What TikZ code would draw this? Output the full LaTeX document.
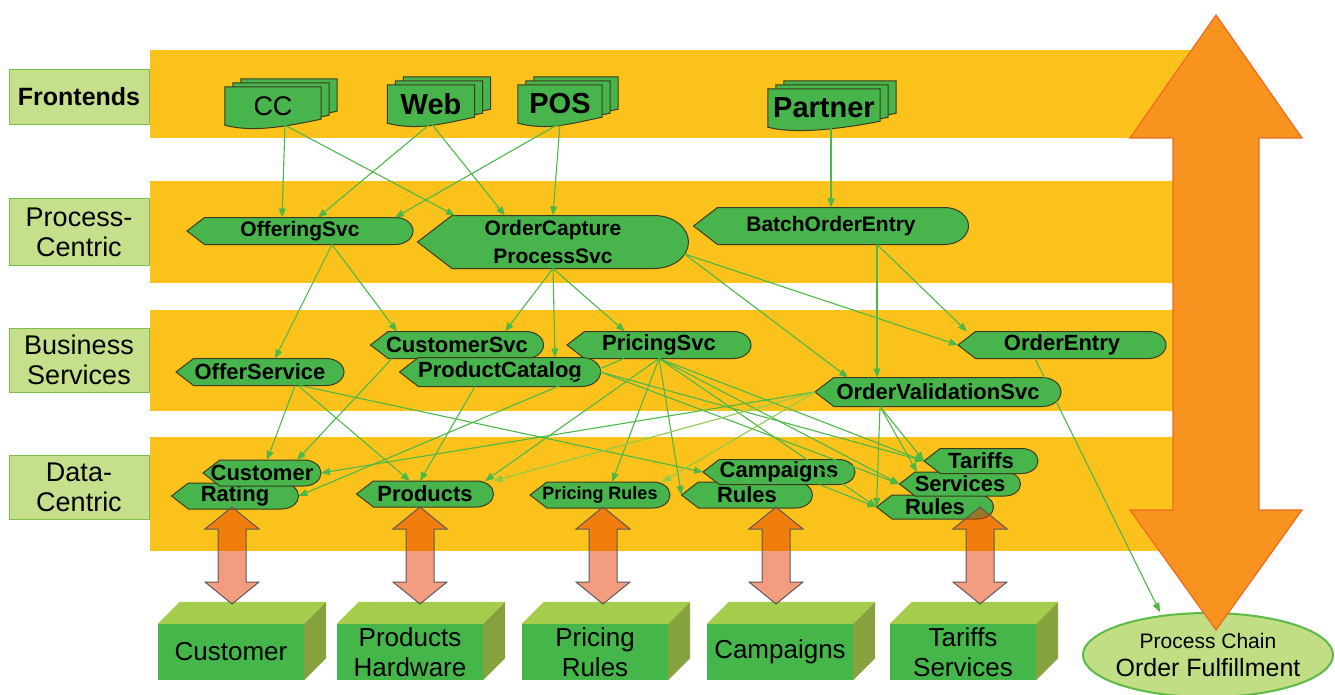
\documentclass[tikz,border=0pt]{standalone}
\usepackage{fontspec}
\setmainfont{Liberation Sans}
\usepackage{xcolor}
\usepackage{tikz}
\usetikzlibrary{arrows.meta, shapes.geometric, backgrounds}
\definecolor{bandcol}{HTML}{FBC21B}
\definecolor{lblfill}{HTML}{C6DF8B}
\definecolor{lblline}{HTML}{7DC14A}
\definecolor{svcfill}{HTML}{47B54B}
\definecolor{svcline}{HTML}{3D3B1F}
\definecolor{edgegreen}{HTML}{4CB848}
\definecolor{edgelight}{HTML}{8DCB4A}
\definecolor{boxfront}{HTML}{45B649}
\definecolor{boxtop}{HTML}{A3CD4B}
\definecolor{boxside}{HTML}{86A23E}
\definecolor{feedcol}{HTML}{E83A00}
\definecolor{feedline}{HTML}{5A5A5A}
\definecolor{bigfill}{HTML}{F7931E}
\definecolor{bigline}{HTML}{F26A21}
\definecolor{chainfill}{HTML}{C2DE84}
\definecolor{chainline}{HTML}{5CBA46}

% pointed left end, rounded right end
\makeatletter
\pgfdeclareshape{svcshape}{
  \inheritsavedanchors[from=rectangle]
  \inheritanchorborder[from=rectangle]
  \inheritanchor[from=rectangle]{center}
  \inheritanchor[from=rectangle]{north}
  \inheritanchor[from=rectangle]{south}
  \inheritanchor[from=rectangle]{east}
  \inheritanchor[from=rectangle]{west}
  \inheritanchor[from=rectangle]{north east}
  \inheritanchor[from=rectangle]{north west}
  \inheritanchor[from=rectangle]{south east}
  \inheritanchor[from=rectangle]{south west}
  \backgroundpath{%
    \southwest \edef\svc@l{\pgf@sys@tonumber\pgf@x}\edef\svc@b{\pgf@sys@tonumber\pgf@y}%
    \northeast \edef\svc@r{\pgf@sys@tonumber\pgf@x}\edef\svc@t{\pgf@sys@tonumber\pgf@y}%
    \pgfmathsetmacro\svc@h{(\svc@t-\svc@b)/2}%
    \pgfmathsetmacro\svc@m{(\svc@t+\svc@b)/2}%
    \pgfmathsetmacro\svc@p{\svc@l+1.3*\svc@h}%
    \pgfmathsetmacro\svc@c{\svc@r-1.3*\svc@h}%
    \pgfmathsetmacro\svc@k{\svc@c+0.72*\svc@h}%
    \pgfmathsetmacro\svc@u{\svc@m+0.55*\svc@h}%
    \pgfmathsetmacro\svc@d{\svc@m-0.55*\svc@h}%
    \pgfpathmoveto{\pgfqpoint{\svc@l pt}{\svc@m pt}}%
    \pgfpathlineto{\pgfqpoint{\svc@p pt}{\svc@t pt}}%
    \pgfpathlineto{\pgfqpoint{\svc@c pt}{\svc@t pt}}%
    \pgfpathcurveto{\pgfqpoint{\svc@k pt}{\svc@t pt}}{\pgfqpoint{\svc@r pt}{\svc@u pt}}{\pgfqpoint{\svc@r pt}{\svc@m pt}}%
    \pgfpathcurveto{\pgfqpoint{\svc@r pt}{\svc@d pt}}{\pgfqpoint{\svc@k pt}{\svc@b pt}}{\pgfqpoint{\svc@c pt}{\svc@b pt}}%
    \pgfpathlineto{\pgfqpoint{\svc@p pt}{\svc@b pt}}%
    \pgfpathclose
  }
}
\makeatother

\begin{document}
\begin{tikzpicture}[
  x=1pt, y=-1pt,
  band/.style={fill=bandcol},
  lbl/.style={draw=lblline, fill=lblfill, line width=1pt, minimum width=140, inner sep=0pt,
              align=center, font=\fontsize{27}{30}\selectfont},
  doc/.style={minimum height=38, inner sep=0pt, font=\fontsize{29}{30}\selectfont\bfseries},
  docshape/.style={draw=svcline, fill=svcfill, line width=1pt},
  svc/.style={shape=svcshape, draw=svcline, fill=svcfill, line width=1pt, inner sep=0pt,
              minimum height=26, font=\fontsize{22}{24}\selectfont\bfseries},
  flow/.style={draw=edgegreen, line width=1.1pt, -{Triangle[length=9pt,width=7pt]}},
  flowlight/.style={flow, draw=edgelight},
  store/.style={fill=boxfront, minimum width=146, minimum height=56, inner sep=0pt,
                align=center, font=\fontsize{26}{30}\selectfont},
  feedarr/.style={fill=feedcol, fill opacity=0.5, draw=feedline, line width=1pt},
  feed/.pic={\draw[feedarr] (0,0) -- (27,22) -- (14,22) -- (14,75) -- (27,75) -- (0,97)
             -- (-27,75) -- (-14,75) -- (-14,22) -- (-27,22) -- cycle;},
  bigarr/.style={fill=bigfill, draw=bigline, line width=1.2pt},
  chainnode/.style={ellipse, draw=chainline, fill=chainfill, line width=2pt, inner xsep=-8pt,
                    inner ysep=-4pt, minimum width=250, minimum height=84, align=center,
                    font=\fontsize{25}{28}\selectfont},
]
\useasboundingbox (0,0) rectangle (1335,695);

% layer labels
\node[lbl, minimum height=55, font=\fontsize{25}{30}\selectfont\bfseries] (frontlbl) at (79,97) {Frontends};
\node[lbl, minimum height=66] (proclbl) at (79,232) {Process-\\Centric};
\node[lbl, minimum height=64] (buslbl) at (79,360) {Business\\Services};
\node[lbl, minimum height=64] (datalbl) at (79,487) {Data-\\Centric};

% frontends
\node[doc, minimum width=96, font=\fontsize{27}{30}\selectfont] (cc) at (273,106) {CC};
\node[doc, minimum width=87] (web) at (431,104) {Web};
\node[doc, minimum width=84] (pos) at (560,104) {POS};
\node[doc, minimum width=112] (partner) at (824,108) {Partner};

% process-centric
\node[svc, minimum width=225, font=\fontsize{21}{24}\selectfont\bfseries] (offering) at (300,231) {OfferingSvc};
\node[svc, minimum width=270, minimum height=52, align=center, font=\fontsize{21}{28}\selectfont\bfseries] (capture) at (553,242) {OrderCapture\\ProcessSvc};
\node[svc, minimum width=274, minimum height=36, font=\fontsize{21}{24}\selectfont\bfseries] (batch) at (831,226) {BatchOrderEntry};

% business services
\node[svc, minimum width=172] (custsvc) at (457,345) {CustomerSvc};
\node[svc, minimum width=183] (pricing) at (659,345) {PricingSvc};
\node[svc, minimum width=167] (offerserv) at (260,372) {OfferService};
\node[svc, minimum width=200, minimum height=28] (prodcat) at (500,372) {ProductCatalog};
\node[svc, minimum width=207] (orderentry) at (1062,345) {OrderEntry};
\node[svc, minimum width=245, minimum height=28] (ovs) at (938,392) {OrderValidationSvc};

% data-centric
\node[svc, minimum width=126, minimum height=25] (rating) at (235,496) {Rating};
\node[svc, minimum width=117, minimum height=25] (customer) at (262,473) {Customer};
\node[svc, minimum width=136, minimum height=25] (products) at (425,494) {Products};
\node[svc, minimum width=139, minimum height=25, font=\fontsize{18}{20}\selectfont\bfseries] (pricingrules) at (600,495) {Pricing Rules};
\node[svc, minimum width=130, minimum height=25] (camprules) at (747,495) {Rules};
\node[svc, minimum width=151, minimum height=24] (campaigns) at (779,472) {Campaigns};
\node[svc, minimum width=116, minimum height=23] (trules) at (935,507) {Rules};
\node[svc, minimum width=120, minimum height=23] (services) at (960,484) {Services};
\node[svc, minimum width=113, minimum height=24] (tariffs) at (981,461) {Tariffs};

% bands and stacked documents behind everything
\begin{scope}[on background layer]
  \fill[band] (150,50) rectangle (1200,138);
  \fill[band] (150,181) rectangle (1200,283);
  \fill[band] (150,310) rectangle (1200,411);
  \fill[band] (150,437) rectangle (1200,551);
  \foreach \d in {cc,web,pos,partner}
    \foreach \s in {16,8,0}
      \draw[docshape] ([shift={(\s,-\s/2)}]\d.south west) -- ([shift={(\s,-\s/2)}]\d.north west)
        -- ([shift={(\s,-\s/2)}]\d.north east) -- ([shift={(\s,-\s/2-6)}]\d.south east)
        .. controls +(-30,6) and +(30,8) .. ([shift={(\s,-\s/2)}]\d.south west) -- cycle;
\end{scope}

% frontends -> process-centric
\draw[flow] ([xshift=12]cc.south) -- ([xshift=-18]offering.north);
\draw[flow] ([xshift=12]cc.south) -- ([xshift=-98]capture.north);
\draw[flow] (web.south) -- ([xshift=18]offering.north);
\draw[flow] (web.south) -- ([xshift=-48]capture.north);
\draw[flow] (pos.south) -- ([xshift=95]offering.north);
\draw[flow] (pos.south) -- (capture.north);
\draw[flow] (partner.south -| batch.north) -- (batch.north);

% process-centric -> business services
\draw[flow] ([xshift=32]offering.south) -- ([xshift=15]offerserv.north);
\draw[flow] ([xshift=32]offering.south) -- ([xshift=-60]custsvc.north);
\draw[flow] (capture.south) -- ([xshift=48]custsvc.north);
\draw[flow] (capture.south) -- ([xshift=55]prodcat.north);
\draw[flow] (capture.south) -- ([xshift=-34]pricing.north);
\draw[flow] ([shift={(-4,12)}]capture.east) -- ([xshift=-90]ovs.north);
\draw[flow] ([shift={(-4,12)}]capture.east) -- (orderentry.west);
\draw[flow] ([xshift=46]batch.south) -- ([xshift=-61]ovs.north);
\draw[flow] ([xshift=46]batch.south) -- ([xshift=-95]orderentry.north);

% business services -> data-centric
\draw[flow] ([xshift=35]offerserv.south) -- ([xshift=5]customer.north);
\draw[flow] ([xshift=38]offerserv.south) -- ([xshift=-15]products.north);
\draw[flow] ([xshift=40]offerserv.south) -- (campaigns.west);
\draw[flow] ([xshift=-65]custsvc.south) -- ([xshift=35]customer.north);
\draw[flow] ([xshift=-25]prodcat.south) -- ([xshift=-5]products.north);
\draw[flow] (prodcat.east) -- (tariffs.west);
\draw[flow] (prodcat.east) -- (services.west);
\draw[flow] ([xshift=-35]pricing.south) -- (rating.east);
\draw[flow] (pricing.south) -- ([xshift=60]products.north);
\draw[flow] (pricing.south) -- ([xshift=12]pricingrules.north);
\draw[flow] (pricing.south) -- (camprules.west);
\draw[flow] (pricing.south) -- (tariffs.west);
\draw[flow] (pricing.south) -- (services.west);
\draw[flow] (pricing.south) -- (trules.west);
\draw[flow] (ovs.west) -- (customer.east);
\draw[flowlight] (ovs.west) -- (products.north east);
\draw[flowlight] (ovs.west) -- ([xshift=62]pricingrules.north);
\draw[flow] ([xshift=-58]ovs.south) -- (tariffs.west);
\draw[flow] ([xshift=-58]ovs.south) -- ([xshift=-43]services.north);
\draw[flow] ([xshift=-58]ovs.south) -- (trules.west);
\draw[flow] ([xshift=40]campaigns.south) -- (trules.west);

% backend stores
\node[store] (custbox) at (231,652) {Customer};
\node[store] (prodbox) at (410,652) {Products\\Hardware};
\node[store] (pricebox) at (595,652) {Pricing\\Rules};
\node[store] (campbox) at (780,652) {Campaigns};
\node[store] (tarbox) at (963,652) {Tariffs\\Services};
\foreach \b in {custbox,prodbox,pricebox,campbox,tarbox}{
  \fill[boxtop] (\b.north west) -- ++(22,-22) -- ([shift={(22,-22)}]\b.north east) -- (\b.north east) -- cycle;
  \fill[boxside] (\b.north east) -- ++(22,-22) -- ([shift={(22,-22)}]\b.south east) -- (\b.south east) -- cycle;
}
\pic at (232,507) {feed};
\pic at (420,507) {feed};
\pic at (603,507) {feed};
\pic at (776,507) {feed};
\pic at (980,507) {feed};

% process chain
\node[chainnode] (chainnode) at (1208,655) {{\fontsize{21}{24}\selectfont Process Chain}\\Order Fulfillment};
\draw[flow] ([xshift=-27]orderentry.south) -- ([xshift=-48]chainnode.north);
\draw[bigarr] (1216,15) -- (1302,138) -- (1259,138) -- (1259,510) -- (1302,510) -- (1216,630)
  -- (1130,510) -- (1173,510) -- (1173,138) -- (1130,138) -- cycle;
\end{tikzpicture}
\end{document}
